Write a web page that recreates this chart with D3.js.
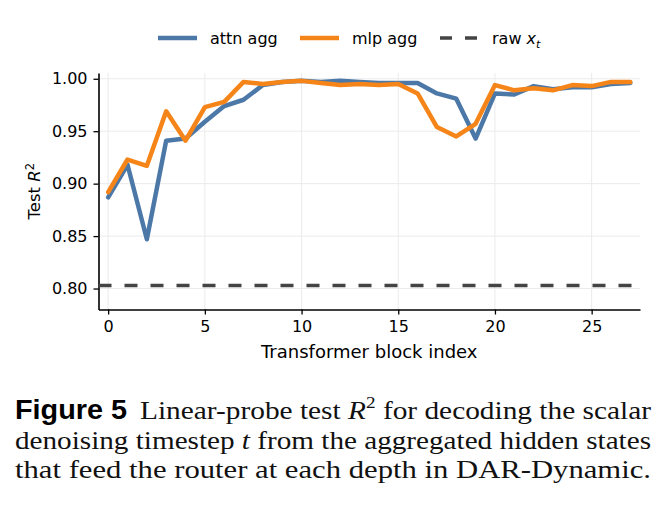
<!DOCTYPE html>
<html>
<head>
<meta charset="utf-8">
<script src="https://cdn.jsdelivr.net/npm/d3@7"></script>
<style>
  body { margin: 0; background: #fff; }
  text { font-family: "DejaVu Sans", sans-serif; fill: #000; }
  .cap { font-family: "Liberation Serif", serif; font-size: 26px; fill: #111; }
</style>
</head>
<body>
<svg id="chart" width="667" height="505"></svg>
<script>
// block index on x
let blocks = [0, 1, 2, 3, 4, 5, 6, 7, 8, 9, 10, 11, 12, 13, 14, 15, 16, 17, 18, 19, 20, 21, 22, 23, 24, 25, 26, 27];
let attnAgg = [0.887, 0.918, 0.847, 0.941, 0.943, 0.959, 0.974, 0.980, 0.994, 0.997, 0.998, 0.997, 0.998, 0.997, 0.996, 0.996,
    0.996, 0.986, 0.981, 0.943, 0.986, 0.985, 0.993, 0.990, 0.992, 0.992, 0.995, 0.996];
let mlpAgg = [0.892, 0.923, 0.917, 0.969, 0.941, 0.973, 0.978, 0.997, 0.995, 0.997, 0.998, 0.996, 0.994, 0.995, 0.994, 0.995,
    0.986, 0.954, 0.945, 0.957, 0.994, 0.989, 0.991, 0.989, 0.994, 0.993, 0.997, 0.997];
let rawXt = 0.803;
let xTicks = [0, 5, 10, 15, 20, 25];
let yTicks = [0.80, 0.85, 0.90, 0.95, 1.00];

let svg = d3.select("#chart");
let pLeft = 98.5, pRight = 640, pTop = 73, pBottom = 309.5;

let x = d3.scaleLinear().domain([-0.5, 27.5]).range([pLeft, pRight]);
let y = d3.scaleLinear().domain([0.78, 1.0055]).range([pBottom, pTop]);

// grid
svg.append("g")
    .selectAll("line")
    .data(xTicks)
    .enter()
    .append("line")
    .attr("x1", d => x(d)).attr("x2", d => x(d))
    .attr("y1", pTop).attr("y2", pBottom)
    .style("stroke", "#ebebeb").style("stroke-width", 1);

svg.append("g")
    .selectAll("line")
    .data(yTicks)
    .enter()
    .append("line")
    .attr("x1", pLeft).attr("x2", pRight)
    .attr("y1", d => y(d)).attr("y2", d => y(d))
    .style("stroke", "#ebebeb").style("stroke-width", 1);

// axes
let xAxis = svg.append("g")
    .attr("transform", "translate(0," + pBottom + ")")
    .call(d3.axisBottom(x).tickValues(xTicks).tickSize(5).tickPadding(6).tickSizeOuter(0));
let yAxis = svg.append("g")
    .attr("transform", "translate(" + pLeft + ",0)")
    .call(d3.axisLeft(y).tickValues(yTicks).tickFormat(d3.format(".2f")).tickSize(5).tickPadding(6).tickSizeOuter(0));

[xAxis, yAxis].forEach(function (a) {
    a.selectAll("text").style("font-size", "16px").style("font-family", "DejaVu Sans").attr("fill", "#000");
    a.selectAll("line").style("stroke", "#000").style("stroke-width", 1.3);
    a.select(".domain").style("stroke", "#000").style("stroke-width", 1.6);
});

// raw x_t baseline
svg.append("line")
    .attr("x1", pLeft).attr("x2", pRight)
    .attr("y1", y(rawXt)).attr("y2", y(rawXt))
    .style("stroke", "#444")
    .style("stroke-width", 3.5)
    .style("stroke-dasharray", "13,13");

let line = d3.line()
    .x((d, i) => x(blocks[i]))
    .y(d => y(d));

svg.append("path")
    .attr("d", line(attnAgg))
    .attr("fill", "none")
    .style("stroke", "#4c78a8")
    .style("stroke-width", 4.5)
    .style("stroke-linejoin", "round")
    .style("stroke-linecap", "round");

svg.append("path")
    .attr("d", line(mlpAgg))
    .attr("fill", "none")
    .style("stroke", "#f58518")
    .style("stroke-width", 4.5)
    .style("stroke-linejoin", "round")
    .style("stroke-linecap", "round");

// axis labels
svg.append("text")
    .attr("x", (pLeft + pRight) / 2)
    .attr("y", 358)
    .attr("text-anchor", "middle")
    .style("font-size", "18px")
    .text("Transformer block index");

let yl = svg.append("text")
    .attr("transform", "translate(40," + ((pTop + pBottom) / 2) + ") rotate(-90)")
    .attr("text-anchor", "middle")
    .style("font-size", "16.5px");
yl.append("tspan").text("Test ");
yl.append("tspan").style("font-style", "italic").text("R");
yl.append("tspan").attr("dy", -6).style("font-size", "11.5px").text("2");

// legend
let legend = [
    { label: "attn agg", color: "#4c78a8", dash: null, x: 158 },
    { label: "mlp agg", color: "#f58518", dash: null, x: 300 },
    { label: "raw", color: "#444", dash: "12,13", x: 440 }
];
let lg = svg.append("g");
legend.forEach(function (d) {
    lg.append("line")
        .attr("x1", d.x).attr("x2", d.x + 39)
        .attr("y1", 38).attr("y2", 38)
        .style("stroke", d.color)
        .style("stroke-width", d.dash ? 3.5 : 4.5)
        .style("stroke-dasharray", d.dash);
    let t = lg.append("text")
        .attr("x", d.x + 52)
        .attr("y", 43.5)
        .style("font-size", "16px")
        .text(d.label);
    if (d.dash) {
        t.append("tspan").text(" ");
        t.append("tspan").style("font-style", "italic").text("x");
        t.append("tspan").attr("dy", 4).style("font-size", "11px").style("font-style", "italic").text("t");
    }
});

// caption (justified to the column width)
svg.append("text")
    .attr("x", 15).attr("y", 419)
    .attr("textLength", 112).attr("lengthAdjust", "spacingAndGlyphs")
    .style("font-family", "Liberation Sans").style("font-weight", "bold").style("font-size", "28px")
    .text("Figure 5");

let cap1 = svg.append("text").attr("class", "cap").attr("x", 140).attr("y", 419)
    .attr("textLength", 511).attr("lengthAdjust", "spacingAndGlyphs");
cap1.append("tspan").text("Linear-probe test ");
cap1.append("tspan").style("font-style", "italic").text("R");
cap1.append("tspan").attr("dy", -11).style("font-size", "17px").text("2");
cap1.append("tspan").attr("dy", 11).text(" for decoding the scalar");

let cap2 = svg.append("text").attr("class", "cap").attr("x", 15).attr("y", 449)
    .attr("textLength", 636).attr("lengthAdjust", "spacingAndGlyphs");
cap2.append("tspan").text("denoising timestep ");
cap2.append("tspan").style("font-style", "italic").text("t");
cap2.append("tspan").text(" from the aggregated hidden states");

svg.append("text").attr("class", "cap").attr("x", 15).attr("y", 478)
    .attr("textLength", 636).attr("lengthAdjust", "spacingAndGlyphs")
    .text("that feed the router at each depth in DAR-Dynamic.");
</script>
</body>
</html>
